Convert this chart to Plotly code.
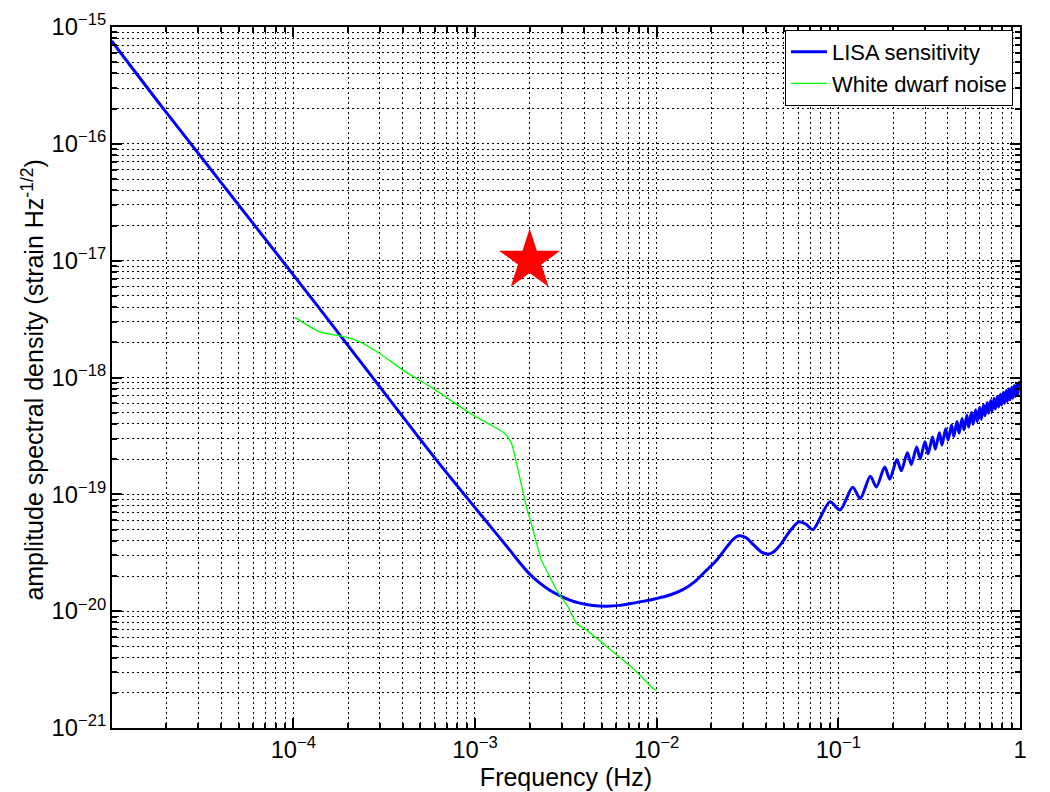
import plotly.graph_objects as go

# ---------------- data ----------------
lisa_freq = [
    1.0e-5, 1.916e-5, 1.284e-4, 6.14e-4, 1.555e-3, 1.764e-3, 2.003e-3, 2.274e-3,
    2.582e-3, 2.931e-3, 3.327e-3, 3.776e-3, 4.452e-3, 5.298e-3, 6.27e-3, 7.12e-3,
    8.39e-3, 9.99e-3, 1.182e-2, 1.394e-2, 1.623e-2, 1.883e-2, 2.137e-2, 2.404e-2,
    2.628e-2, 2.835e-2, 3.098e-2, 3.43e-2, 3.749e-2, 4.071e-2, 4.419e-2, 4.83e-2,
    5.413e-2, 6.067e-2, 6.63e-2, 7.245e-2,
    0.090, 0.102, 0.120, 0.132, 0.150, 0.162, 0.180, 0.192,
    0.210, 0.222, 0.240, 0.252, 0.270, 0.282, 0.300, 0.312, 0.330, 0.342,
    0.360, 0.372, 0.390, 0.402, 0.420, 0.432, 0.450, 0.462, 0.480, 0.492,
    0.510, 0.522, 0.540, 0.552, 0.570, 0.582, 0.600, 0.612, 0.630, 0.642,
    0.660, 0.672, 0.690, 0.702, 0.720, 0.732, 0.750, 0.762, 0.780, 0.792,
    0.810, 0.822, 0.840, 0.852, 0.870, 0.882, 0.900, 0.912, 0.930, 0.942,
    0.960, 0.972, 0.990, 1.000,
]
lisa_asd = [
    7.59e-16, 2.021e-16, 4.60e-18, 1.96e-19, 3.33e-20, 2.60e-20, 2.074e-20, 1.737e-20,
    1.513e-20, 1.357e-20, 1.242e-20, 1.171e-20, 1.119e-20, 1.104e-20, 1.121e-20, 1.159e-20,
    1.213e-20, 1.285e-20, 1.376e-20, 1.527e-20, 1.789e-20, 2.244e-20, 2.733e-20, 3.462e-20,
    4.095e-20, 4.413e-20, 4.259e-20, 3.674e-20, 3.231e-20, 3.076e-20, 3.231e-20, 3.747e-20,
    4.84e-20, 5.815e-20, 5.557e-20, 4.985e-20,
    8.66e-20, 7.33e-20, 1.148e-19, 9.23e-20, 1.429e-19, 1.156e-19, 1.710e-19, 1.349e-19,
    1.986e-19, 1.592e-19, 2.265e-19, 1.803e-19, 2.541e-19, 2.014e-19, 2.818e-19, 2.223e-19, 3.094e-19, 2.432e-19,
    3.370e-19, 2.642e-19, 3.648e-19, 2.914e-19, 3.917e-19, 3.126e-19, 4.193e-19, 3.342e-19, 4.467e-19, 3.552e-19,
    4.742e-19, 3.767e-19, 5.012e-19, 3.975e-19, 5.284e-19, 4.188e-19, 5.559e-19, 4.399e-19, 5.834e-19, 4.717e-19,
    6.104e-19, 4.934e-19, 6.368e-19, 5.148e-19, 6.645e-19, 5.365e-19, 6.918e-19, 5.580e-19, 7.194e-19, 5.795e-19,
    7.464e-19, 6.012e-19, 7.727e-19, 6.226e-19, 7.998e-19, 6.442e-19, 8.270e-19, 6.656e-19, 8.541e-19, 6.871e-19,
    8.810e-19, 7.084e-19, 9.078e-19, 9.10e-19,
]

wd_freq = [
    1.02e-4, 1.397e-4, 1.918e-4, 2.32e-4, 2.99e-4, 4.02e-4, 5.88e-4, 7.57e-4,
    9.76e-4, 1.258e-3, 1.459e-3, 1.589e-3, 1.693e-3, 1.921e-3, 2.09e-3,
    2.323e-3, 2.638e-3, 2.93e-3, 3.256e-3, 3.622e-3, 4.11e-3, 5.76e-3,
    7.43e-3, 9.56e-3, 1.0e-2,
]
wd_asd = [
    3.27e-18, 2.46e-18, 2.23e-18, 2.02e-18, 1.607e-18, 1.156e-18, 8.07e-19, 6.19e-19,
    4.76e-19, 3.83e-19, 3.32e-19, 2.73e-19, 1.84e-19, 7.82e-20, 4.93e-20,
    2.735e-20, 1.841e-20, 1.371e-20, 1.089e-20, 7.85e-21, 6.88e-21, 4.49e-21,
    3.23e-21, 2.18e-21, 2.10e-21,
]

star_freq = [2.0e-3]
star_asd = [1.0e-17]

series_names = ["LISA sensitivity", "White dwarf noise"]
x_title = "Frequency (Hz)"
y_title = "amplitude spectral density (strain Hz<sup>-1/2</sup>)"

# ---------------- figure ----------------
FONT = "Liberation Sans, Arial, Helvetica, sans-serif"
GRID_DASH = "2px,3px"

fig = go.Figure()
fig.add_trace(go.Scatter(
    x=lisa_freq, y=lisa_asd, mode="lines", name=series_names[0],
    line=dict(color="#0000ff", width=3, shape="spline", smoothing=0.8),
))
fig.add_trace(go.Scatter(
    x=wd_freq, y=wd_asd, mode="lines", name=series_names[1],
    line=dict(color="#00ff00", width=1.3, shape="spline", smoothing=0.6),
))
fig.add_trace(go.Scatter(
    x=star_freq, y=star_asd, mode="markers", showlegend=False,
    marker=dict(symbol="star", size=46, color="#ff0000", line=dict(width=0)),
))

axis_common = dict(
    type="log",
    dtick=1,
    exponentformat="power",
    showline=True, linecolor="black", linewidth=2,
    mirror="allticks",
    ticks="inside", ticklen=10, tickwidth=2, tickcolor="black",
    showgrid=True, gridcolor="black", gridwidth=1.4, griddash=GRID_DASH,
    zeroline=False,
    tickfont=dict(family=FONT, size=19, color="black"),
    minor=dict(dtick="D1", ticks="inside", ticklen=5, tickwidth=1.5, tickcolor="black",
               showgrid=True, gridcolor="black", gridwidth=1.4, griddash=GRID_DASH),
)

fig.update_layout(
    width=1050, height=792,
    margin=dict(l=112, r=30, t=27, b=64),
    paper_bgcolor="white", plot_bgcolor="white",
    font=dict(family=FONT, color="black"),
    xaxis=dict(axis_common, range=[-4.998, 0],
               title=dict(text=x_title, font=dict(family=FONT, size=25), standoff=2),
               automargin=False),
    yaxis=dict(axis_common, range=[-21, -15], automargin=False),
    legend=dict(
        x=0.9923, y=0.9957, xanchor="right", yanchor="top",
        bgcolor="white", bordercolor="black", borderwidth=1,
        font=dict(family=FONT, size=22, color="black"),
        tracegroupgap=0, itemwidth=36,
    ),
    showlegend=True,
    annotations=[dict(
        text=y_title, textangle=-90, showarrow=False,
        xref="paper", yref="paper", x=-0.088, y=0.4957,
        xanchor="center", yanchor="middle",
        font=dict(family=FONT, size=25, color="black"),
    )],
)

fig.write_html("out.html")
